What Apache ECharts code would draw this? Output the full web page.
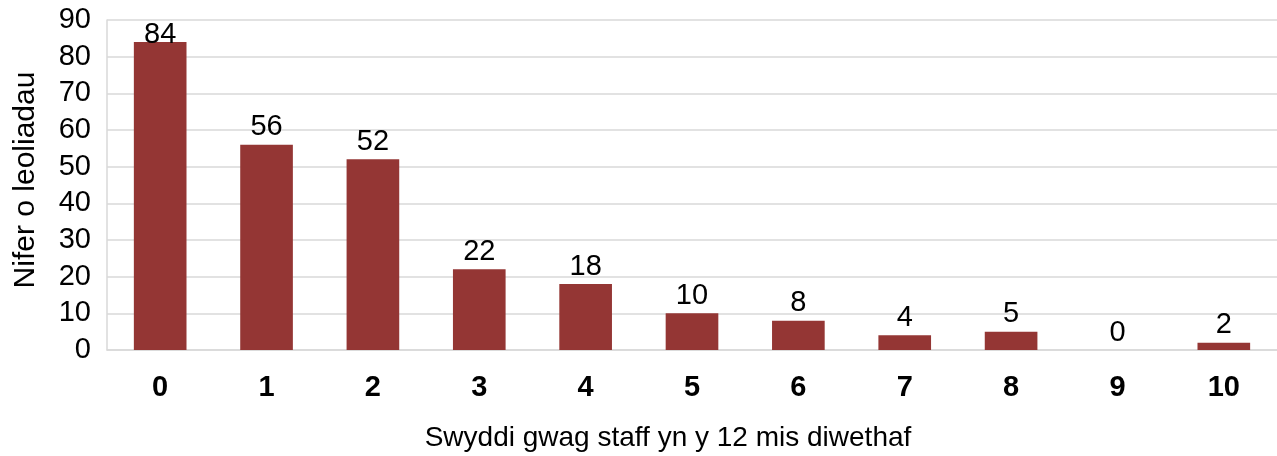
<!DOCTYPE html>
<html><head><meta charset="utf-8">
<script src="https://cdn.jsdelivr.net/npm/echarts@6/dist/echarts.min.js"></script>
<style>html,body{margin:0;padding:0;background:#fff}#c{width:1277px;height:456px}</style>
</head><body><div id="c"></div>
<script>
const categories = ['0','1','2','3','4','5','6','7','8','9','10'];
const values = [84,56,52,22,18,10,8,4,5,0,2];
const xAxisTitle = 'Swyddi gwag staff yn y 12 mis diwethaf';
const yAxisTitle = 'Nifer o leoliadau';
const font = '"Liberation Sans", Arial, sans-serif';
const seriesData = values.map((v, i) => i === 0
  ? {value: v, label: {distance: -7}}
  : v);
const chart = echarts.init(document.getElementById('c'));
chart.setOption({
  animation:false,
  grid:{left:107,right:0,top:20,bottom:106,containLabel:false,outerBoundsMode:'none'},
  xAxis:{type:'category',data:categories,
    axisLine:{show:true,lineStyle:{color:'#d9d9d9',width:1.5}},
    axisTick:{show:false},
    axisLabel:{color:'#000',fontFamily:font,fontSize:29,fontWeight:'bold',margin:23},
    name:xAxisTitle,nameLocation:'middle',nameGap:74,
    nameTextStyle:{color:'#000',fontFamily:font,fontSize:28,padding:[0,48,0,0]}},
  yAxis:{type:'value',min:0,max:90,interval:10,
    axisLine:{show:true,lineStyle:{color:'#d9d9d9',width:1.5}},
    axisTick:{show:false},
    splitLine:{lineStyle:{color:'#d9d9d9',width:1.5}},
    axisLabel:{color:'#000',fontFamily:font,fontSize:29,margin:16},
    name:yAxisTitle,nameLocation:'middle',nameGap:66,
    nameTextStyle:{color:'#000',fontFamily:font,fontSize:30,padding:[0,0,0,10]}},
  series:[{type:'bar',data:seriesData,barWidth:'49.5%',
    itemStyle:{color:'#943634'},
    label:{show:true,position:'top',distance:3,color:'#000',fontFamily:font,fontSize:29}}]
});
</script></body></html>
